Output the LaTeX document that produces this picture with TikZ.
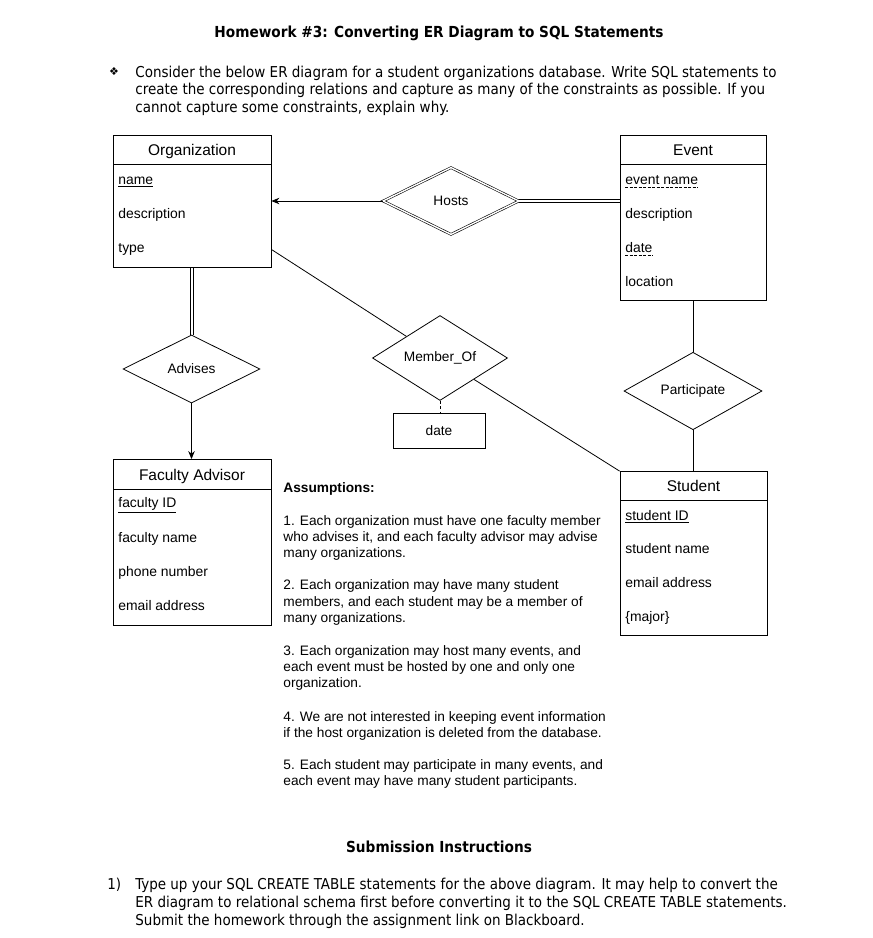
\documentclass[tikz,border=0pt]{standalone}
\usepackage{fontspec}
\setmainfont{Liberation Sans}
\newfontfamily\docfont{DejaVu Sans Condensed}
\newfontfamily\symfont{DejaVu Sans}
\usetikzlibrary{shapes.geometric,arrows.meta}

\tikzset{
  enthead/.style={draw, minimum height=29pt, inner sep=0pt, text height=11pt, text depth=0pt, font=\fontsize{15.5}{18}\selectfont},
  entbody/.style={draw, inner sep=0pt},
  attr/.style={anchor=base west, inner sep=0pt, font=\fontsize{13.9}{16}\selectfont},
  reldia/.style={draw, diamond, minimum width=136pt, minimum height=68pt, inner sep=0pt, font=\fontsize{13.7}{16}\selectfont},
  doctext/.style={anchor=base west, inner sep=0pt, font=\docfont\fontsize{15}{18}\selectfont},
  doctitle/.style={inner sep=0pt, font=\docfont\bfseries\fontsize{15.2}{18}\selectfont},
  notetext/.style={anchor=base west, inner sep=0pt, font=\fontsize{13.7}{16}\selectfont},
  dbl/.style={double, double distance=2.2pt},
  tip/.style={-{Stealth[length=8pt,width=6.5pt]}},
  pkey/.style={line width=0.6pt, dash pattern=on 3pt off 1.5pt},
}

\begin{document}
\begin{tikzpicture}[x=1pt, y=-1pt, line width=0.8pt]
    \useasboundingbox[fill=white] (0,0) rectangle (873,938);

    % Titre et consigne
    \node[doctitle] (title) at (439,33) {Homework \#3: Converting ER Diagram to SQL Statements};
    \node[inner sep=0pt, font=\symfont\fontsize{11}{12}\selectfont] (bullet) at (114,72) {❖};
    \foreach \y/\t in {77/{Consider the below ER diagram for a student organizations database. Write SQL statements to},
                       94.5/{create the corresponding relations and capture as many of the constraints as possible. If you},
                       112/{cannot capture some constraints, explain why.}}
        \node[doctext] at (135,\y) {\t};

    % Entites
    \node[enthead, minimum width=158pt] (org) at (192,150) {Organization};
    \node[entbody, minimum width=158pt, minimum height=103pt] (orgbody) at (192,215.5) {};
    \node[attr] (orgname) at (118,184.5) {\underline{name}};
    \node[attr] (orgdesc) at (118,218.5) {description};
    \node[attr] (orgtype) at (118,252.5) {type};

    \node[enthead, minimum width=146pt] (event) at (693,150) {Event};
    \node[entbody, minimum width=146pt, minimum height=136pt] (eventbody) at (693,232) {};
    \node[attr] (evname) at (625,184.5) {event name};
    \node[attr] (evdesc) at (625,218.5) {description};
    \node[attr] (evdate) at (625,252.5) {date};
    \node[attr] (evloc) at (625,286.5) {location};
    % cle partielle en pointilles
    \draw[pkey] ([yshift=-2.5pt]evname.base west) -- ([yshift=-2.5pt]evname.base east);
    \draw[pkey] ([yshift=-2.5pt]evdate.base west) -- ([yshift=-2.5pt]evdate.base east);

    \node[enthead, minimum width=158pt, minimum height=30pt] (fac) at (192,474.5) {Faculty Advisor};
    \node[entbody, minimum width=158pt, minimum height=136pt] (facbody) at (192,557) {};
    \node[attr] (facid) at (118,507.5) {\underline{faculty ID}};
    \node[attr] (facname) at (118,542.5) {faculty name};
    \node[attr] (facphone) at (118,576.5) {phone number};
    \node[attr] (facmail) at (118,610.5) {email address};

    \node[enthead, minimum width=147pt] (stud) at (693.5,486) {Student};
    \node[entbody, minimum width=147pt, minimum height=135pt] (studbody) at (693.5,567.5) {};
    \node[attr] (studid) at (625,520.5) {\underline{student ID}};
    \node[attr] (studname) at (625,553.5) {student name};
    \node[attr] (studmail) at (625,587.5) {email address};
    \node[attr] (studmajor) at (625,621.5) {\{major\}};

    % Associations
    \node[reldia, dbl, double distance=1.4pt, line width=0.6pt, minimum height=67pt] (hosts) at (451,201) {Hosts};
    \node[reldia, minimum width=137pt] (advises) at (191.5,369) {Advises};
    \node[reldia, minimum width=135pt] (member) at (440,358) {Member\_Of};
    \node[reldia, minimum width=138pt] (part) at (693,391) {Participate};
    \node[draw, minimum width=92pt, minimum height=35pt, inner sep=0pt, font=\fontsize{13.7}{16}\selectfont] (mdate) at (439,430.5) {date};

    % Liens
    \draw[tip] (hosts.west) -- (hosts.west -| orgbody.east);
    \draw[dbl] (hosts.east) -- (hosts.east -| eventbody.west);
    % participation totale : deux traits
    \draw ([xshift=-1.5pt]advises.north) -- ([xshift=-1.5pt]advises.north |- orgbody.south);
    \draw ([xshift=1.5pt]advises.north) -- ([xshift=1.5pt]advises.north |- orgbody.south);
    \draw[tip] (advises.south) -- (advises.south |- fac.north);
    \draw (orgbody.east |- orgtype.center) -- (member);
    \draw (member) -- (stud.north west);
    \draw[dash pattern=on 3pt off 2.5pt] (member.south) -- (member.south |- mdate.north);
    \draw (eventbody.south) -- (part.north);
    \draw (part.south) -- (part.south |- stud.north);

    % Hypotheses
    \node[notetext, font=\bfseries\fontsize{13.7}{16}\selectfont] (assum) at (283,492.5) {Assumptions:};
    \foreach \y/\t in {525.5/{1. Each organization must have one faculty member},
                       541.5/{who advises it, and each faculty advisor may advise},
                       557.5/{many organizations.},
                       589.5/{2. Each organization may have many student},
                       606/{members, and each student may be a member of},
                       622/{many organizations.},
                       655.5/{3. Each organization may host many events, and},
                       671.5/{each event must be hosted by one and only one},
                       687.5/{organization.},
                       721.5/{4. We are not interested in keeping event information},
                       737.5/{if the host organization is deleted from the database.},
                       769.5/{5. Each student may participate in many events, and},
                       785.5/{each event may have many student participants.}}
        \node[notetext] at (283,\y) {\t};

    % Instructions
    \node[doctitle] (subm) at (439,846.5) {Submission Instructions};
    \node[doctext] (item) at (107,889) {1)};
    \foreach \y/\t in {889/{Type up your SQL CREATE TABLE statements for the above diagram. It may help to convert the},
                       907/{ER diagram to relational schema first before converting it to the SQL CREATE TABLE statements.},
                       925/{Submit the homework through the assignment link on Blackboard.}}
        \node[doctext] at (135,\y) {\t};
\end{tikzpicture}
\end{document}
